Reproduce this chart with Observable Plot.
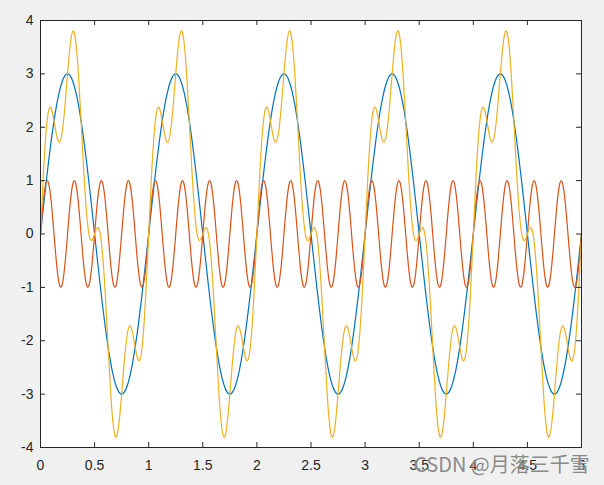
<!DOCTYPE html>
<html><head><meta charset="utf-8">
<script src="https://cdn.jsdelivr.net/npm/d3@7"></script>
<script src="https://cdn.jsdelivr.net/npm/@observablehq/plot@0.6"></script>
<style>
html,body{margin:0;padding:0;background:#f0f0f0;}
#chart{position:relative;width:604px;height:485px;overflow:hidden;}
#wm{position:absolute;left:414px;top:450px;font-size:20px;line-height:28px;font-family:"Noto Sans CJK SC",sans-serif;color:rgba(110,110,110,0.8);white-space:nowrap;pointer-events:none;
text-shadow:0 0 1px rgba(240,240,240,0.9);}
</style></head><body><div id="chart"><div id="wm">CSDN @月落三千雪</div></div>
<script>
// sample times
const t = [
0,0.025,0.05,0.075,0.1,0.125,0.15,0.175,0.2,0.225,0.25,0.275,0.3,0.325,0.35,0.375,0.4,0.425,0.45,0.475,0.5,0.525,0.55,0.575,0.6,0.625,0.65,0.675,0.7,0.725,0.75,0.775,0.8,0.825,0.85,0.875,0.9,0.925,0.95,0.975,
1,1.025,1.05,1.075,1.1,1.125,1.15,1.175,1.2,1.225,1.25,1.275,1.3,1.325,1.35,1.375,1.4,1.425,1.45,1.475,1.5,1.525,1.55,1.575,1.6,1.625,1.65,1.675,1.7,1.725,1.75,1.775,1.8,1.825,1.85,1.875,1.9,1.925,1.95,1.975,
2,2.025,2.05,2.075,2.1,2.125,2.15,2.175,2.2,2.225,2.25,2.275,2.3,2.325,2.35,2.375,2.4,2.425,2.45,2.475,2.5,2.525,2.55,2.575,2.6,2.625,2.65,2.675,2.7,2.725,2.75,2.775,2.8,2.825,2.85,2.875,2.9,2.925,2.95,2.975,
3,3.025,3.05,3.075,3.1,3.125,3.15,3.175,3.2,3.225,3.25,3.275,3.3,3.325,3.35,3.375,3.4,3.425,3.45,3.475,3.5,3.525,3.55,3.575,3.6,3.625,3.65,3.675,3.7,3.725,3.75,3.775,3.8,3.825,3.85,3.875,3.9,3.925,3.95,3.975,
4,4.025,4.05,4.075,4.1,4.125,4.15,4.175,4.2,4.225,4.25,4.275,4.3,4.325,4.35,4.375,4.4,4.425,4.45,4.475,4.5,4.525,4.55,4.575,4.6,4.625,4.65,4.675,4.7,4.725,4.75,4.775,4.8,4.825,4.85,4.875,4.9,4.925,4.95,4.975,
5];
// blue series
const blue = [
0,0.469,0.927,1.362,1.763,2.121,2.427,2.673,2.853,2.963,3,2.963,2.853,2.673,2.427,2.121,1.763,1.362,0.927,0.469,0,-0.469,-0.927,-1.362,-1.763,-2.121,-2.427,-2.673,-2.853,-2.963,-3,-2.963,-2.853,-2.673,-2.427,-2.121,-1.763,-1.362,-0.927,-0.469,
0,0.469,0.927,1.362,1.763,2.121,2.427,2.673,2.853,2.963,3,2.963,2.853,2.673,2.427,2.121,1.763,1.362,0.927,0.469,0,-0.469,-0.927,-1.362,-1.763,-2.121,-2.427,-2.673,-2.853,-2.963,-3,-2.963,-2.853,-2.673,-2.427,-2.121,-1.763,-1.362,-0.927,-0.469,
0,0.469,0.927,1.362,1.763,2.121,2.427,2.673,2.853,2.963,3,2.963,2.853,2.673,2.427,2.121,1.763,1.362,0.927,0.469,0,-0.469,-0.927,-1.362,-1.763,-2.121,-2.427,-2.673,-2.853,-2.963,-3,-2.963,-2.853,-2.673,-2.427,-2.121,-1.763,-1.362,-0.927,-0.469,
0,0.469,0.927,1.362,1.763,2.121,2.427,2.673,2.853,2.963,3,2.963,2.853,2.673,2.427,2.121,1.763,1.362,0.927,0.469,0,-0.469,-0.927,-1.362,-1.763,-2.121,-2.427,-2.673,-2.853,-2.963,-3,-2.963,-2.853,-2.673,-2.427,-2.121,-1.763,-1.362,-0.927,-0.469,
0,0.469,0.927,1.362,1.763,2.121,2.427,2.673,2.853,2.963,3,2.963,2.853,2.673,2.427,2.121,1.763,1.362,0.927,0.469,0,-0.469,-0.927,-1.362,-1.763,-2.121,-2.427,-2.673,-2.853,-2.963,-3,-2.963,-2.853,-2.673,-2.427,-2.121,-1.763,-1.362,-0.927,-0.469,
0];
// orange series
const orange = [
0,0.588,0.951,0.951,0.588,0,-0.588,-0.951,-0.951,-0.588,0,0.588,0.951,0.951,0.588,0,-0.588,-0.951,-0.951,-0.588,0,0.588,0.951,0.951,0.588,0,-0.588,-0.951,-0.951,-0.588,0,0.588,0.951,0.951,0.588,0,-0.588,-0.951,-0.951,-0.588,
0,0.588,0.951,0.951,0.588,0,-0.588,-0.951,-0.951,-0.588,0,0.588,0.951,0.951,0.588,0,-0.588,-0.951,-0.951,-0.588,0,0.588,0.951,0.951,0.588,0,-0.588,-0.951,-0.951,-0.588,0,0.588,0.951,0.951,0.588,0,-0.588,-0.951,-0.951,-0.588,
0,0.588,0.951,0.951,0.588,0,-0.588,-0.951,-0.951,-0.588,0,0.588,0.951,0.951,0.588,0,-0.588,-0.951,-0.951,-0.588,0,0.588,0.951,0.951,0.588,0,-0.588,-0.951,-0.951,-0.588,0,0.588,0.951,0.951,0.588,0,-0.588,-0.951,-0.951,-0.588,
0,0.588,0.951,0.951,0.588,0,-0.588,-0.951,-0.951,-0.588,0,0.588,0.951,0.951,0.588,0,-0.588,-0.951,-0.951,-0.588,0,0.588,0.951,0.951,0.588,0,-0.588,-0.951,-0.951,-0.588,0,0.588,0.951,0.951,0.588,0,-0.588,-0.951,-0.951,-0.588,
0,0.588,0.951,0.951,0.588,0,-0.588,-0.951,-0.951,-0.588,0,0.588,0.951,0.951,0.588,0,-0.588,-0.951,-0.951,-0.588,0,0.588,0.951,0.951,0.588,0,-0.588,-0.951,-0.951,-0.588,0,0.588,0.951,0.951,0.588,0,-0.588,-0.951,-0.951,-0.588,
0];
// yellow series
const yellow = [
0,1.057,1.878,2.313,2.351,2.121,1.839,1.722,1.902,2.375,3,3.551,3.804,3.624,3.015,2.121,1.175,0.411,-0.024,-0.119,0,0.119,0.024,-0.411,-1.175,-2.121,-3.015,-3.624,-3.804,-3.551,-3,-2.375,-1.902,-1.722,-1.839,-2.121,-2.351,-2.313,-1.878,-1.057,
0,1.057,1.878,2.313,2.351,2.121,1.839,1.722,1.902,2.375,3,3.551,3.804,3.624,3.015,2.121,1.175,0.411,-0.024,-0.119,0,0.119,0.024,-0.411,-1.175,-2.121,-3.015,-3.624,-3.804,-3.551,-3,-2.375,-1.902,-1.722,-1.839,-2.121,-2.351,-2.313,-1.878,-1.057,
0,1.057,1.878,2.313,2.351,2.121,1.839,1.722,1.902,2.375,3,3.551,3.804,3.624,3.015,2.121,1.175,0.411,-0.024,-0.119,0,0.119,0.024,-0.411,-1.175,-2.121,-3.015,-3.624,-3.804,-3.551,-3,-2.375,-1.902,-1.722,-1.839,-2.121,-2.351,-2.313,-1.878,-1.057,
0,1.057,1.878,2.313,2.351,2.121,1.839,1.722,1.902,2.375,3,3.551,3.804,3.624,3.015,2.121,1.175,0.411,-0.024,-0.119,0,0.119,0.024,-0.411,-1.175,-2.121,-3.015,-3.624,-3.804,-3.551,-3,-2.375,-1.902,-1.722,-1.839,-2.121,-2.351,-2.313,-1.878,-1.057,
0,1.057,1.878,2.313,2.351,2.121,1.839,1.722,1.902,2.375,3,3.551,3.804,3.624,3.015,2.121,1.175,0.411,-0.024,-0.119,0,0.119,0.024,-0.411,-1.175,-2.121,-3.015,-3.624,-3.804,-3.551,-3,-2.375,-1.902,-1.722,-1.839,-2.121,-2.351,-2.313,-1.878,-1.057,
0];
const xTicks = [0,0.5,1,1.5,2,2.5,3,3.5,4,4.5,5];
const yTicks = [-4,-3,-2,-1,0,1,2,3,4];
const xDomain = [0,5];
const yDomain = [-4,4];

const W = 604, H = 485, mL = 40, mR = 23, mT = 20, mB = 38;
const tickLen = 5;
const pxPerY = (H - mT - mB) / (yDomain[1] - yDomain[0]);
const pxPerX = (W - mL - mR) / (xDomain[1] - xDomain[0]);
const dyTick = tickLen / pxPerY, dxTick = tickLen / pxPerX;
const axisColor = "#262626";

const rows = (vals) => t.map((tt, i) => ({t: tt, v: vals[i]}));

const chart = Plot.plot({
  width: W, height: H,
  marginLeft: mL, marginRight: mR, marginTop: mT, marginBottom: mB,
  style: {background: "#f0f0f0", fontFamily: "'Liberation Sans', Arial, sans-serif", fontSize: "14px", color: axisColor},
  x: {domain: xDomain, label: null},
  y: {domain: yDomain, label: null},
  marks: [
    Plot.frame({fill: "white", stroke: "none"}),
    Plot.line(rows(blue), {x: "t", y: "v", stroke: "#0072BD", strokeWidth: 1.2, curve: "natural"}),
    Plot.line(rows(orange), {x: "t", y: "v", stroke: "#D95319", strokeWidth: 1.2, curve: "natural"}),
    Plot.line(rows(yellow), {x: "t", y: "v", stroke: "#EDB120", strokeWidth: 1.2, curve: "natural"}),
    Plot.ruleX(xTicks, {x: d => d, y1: yDomain[0], y2: yDomain[0] + dyTick, stroke: axisColor}),
    Plot.ruleX(xTicks, {x: d => d, y1: yDomain[1], y2: yDomain[1] - dyTick, stroke: axisColor}),
    Plot.ruleY(yTicks, {y: d => d, x1: xDomain[0], x2: xDomain[0] + dxTick, stroke: axisColor}),
    Plot.ruleY(yTicks, {y: d => d, x1: xDomain[1], x2: xDomain[1] - dxTick, stroke: axisColor}),
    Plot.axisX(xTicks, {tickSize: 0, tickPadding: 13, tickFormat: d => String(d), fill: axisColor, label: null}),
    Plot.axisY(yTicks, {tickSize: 0, tickPadding: 7, tickFormat: d => String(d), fill: axisColor, label: null}),
    Plot.frame({stroke: axisColor, strokeWidth: 1})
  ]
});
document.getElementById("chart").prepend(chart);
</script>
</body></html>
